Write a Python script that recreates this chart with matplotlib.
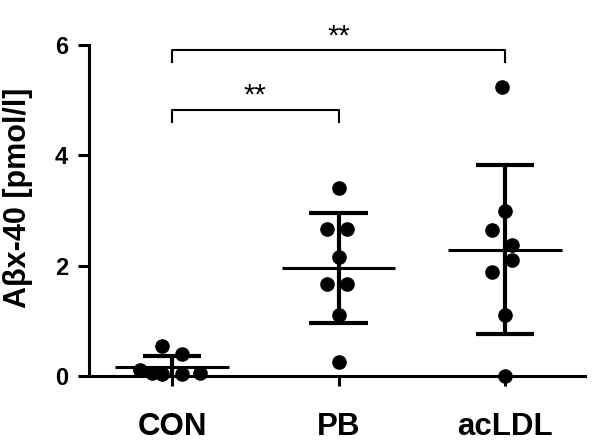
import matplotlib
matplotlib.use('Agg')
import matplotlib.pyplot as plt

plt.rcParams['font.family'] = ['Liberation Sans', 'DejaVu Sans']
plt.rcParams['font.weight'] = 'bold'

groups = ['CON', 'PB', 'acLDL']
con_vals = [0.55, 0.39, 0.11, 0.06, 0.03, 0.03, 0.06]
pb_vals = [3.40, 2.67, 2.67, 2.15, 1.67, 1.67, 1.11, 0.26]
acldl_vals = [5.24, 2.99, 2.65, 2.38, 2.11, 1.89, 1.10, 0.00]
means = [0.17, 1.96, 2.29]
sds = [0.20, 1.00, 1.53]
yticks = [0, 2, 4, 6]
sig_pairs = [(0, 1, '**'), (0, 2, '**')]

# horizontal scatter of the dots inside each column
con_off = [-0.06, 0.06, -0.19, -0.12, -0.06, 0.06, 0.17]
pb_off = [0.0, -0.07, 0.05, 0.0, -0.07, 0.05, 0.0, 0.0]
acldl_off = [-0.02, 0.0, -0.08, 0.04, 0.04, -0.08, 0.0, 0.0]

fig = plt.figure(figsize=(6, 4.46), dpi=100)
ax = fig.add_axes([0.148, 0.157, 0.827, 0.742])

all_vals = [con_vals, pb_vals, acldl_vals]
all_off = [con_off, pb_off, acldl_off]
for i in range(len(groups)):
    xs = [i + o for o in all_off[i]]
    ax.plot(xs, all_vals[i], 'o', color='black', markersize=9.5, clip_on=False, zorder=3)
    # mean line
    ax.hlines(means[i], i - 0.34, i + 0.34, color='black', linewidth=2.2, zorder=2)
    # SD bar and caps
    ax.vlines(i, means[i] - sds[i], means[i] + sds[i], color='black', linewidth=3, zorder=2)
    ax.hlines([means[i] - sds[i], means[i] + sds[i]], i - 0.175, i + 0.175,
              color='black', linewidth=3, zorder=2)

# significance brackets
bracket_y = [4.83, 5.91]
for (a, b, txt), by in zip(sig_pairs, bracket_y):
    ax.plot([a, a, b, b], [by - 0.22, by, by, by - 0.22], color='black',
            linewidth=1.5, clip_on=False)
    ax.text((a + b) / 2, by + 0.25, txt, ha='center', va='center', fontsize=21,
            fontweight='normal', clip_on=False)

ax.set_xlim(-0.5, 2.48)
ax.set_ylim(0, 6)
ax.set_yticks(yticks)
ax.set_xticks(range(len(groups)))
ax.set_xticklabels(groups, fontsize=22.5, fontweight='bold')
ax.tick_params(axis='y', labelsize=17, width=2.2, length=8, pad=7)
ax.tick_params(axis='x', width=2.2, length=7, pad=19)
for lab in ax.get_yticklabels():
    lab.set_fontweight('bold')
ax.set_ylabel('A\u03b2x-40 [pmol/l]', fontsize=22, fontweight='bold')
ax.yaxis.set_label_coords(-0.112, 0.539)

ax.spines['top'].set_visible(False)
ax.spines['right'].set_visible(False)
ax.spines['left'].set_linewidth(2.2)
ax.spines['bottom'].set_linewidth(2.2)

plt.savefig('out.png', dpi=100)
